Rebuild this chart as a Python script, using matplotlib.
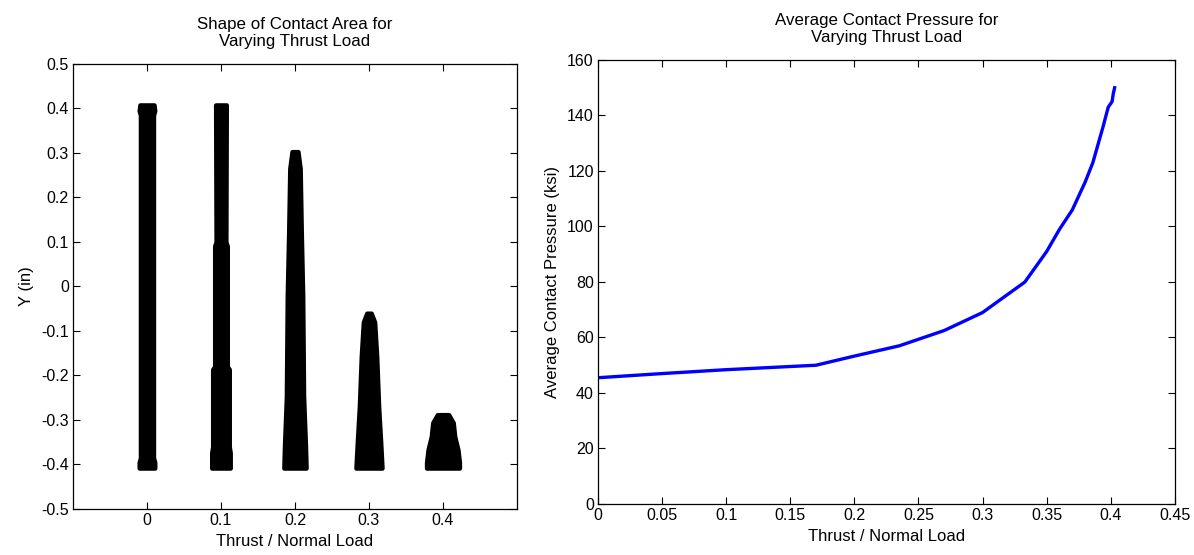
import numpy as np
import matplotlib
matplotlib.use("Agg")
import matplotlib.pyplot as plt

plt.rcParams['font.family'] = ['Liberation Sans', 'DejaVu Sans']
plt.rcParams['font.size'] = 12

# contact area outlines (y position, half width) for each thrust ratio
thrust = [0.0, 0.1, 0.2, 0.3, 0.4]
shape_y = [
    [-0.408, -0.395, -0.385, 0.385, 0.395, 0.408],
    [-0.408, -0.374, -0.360, -0.186, -0.180, 0.091, 0.100, 0.408],
    [-0.408, -0.360, -0.247, -0.021, 0.123, 0.265, 0.303],
    [-0.408, -0.351, -0.270, -0.157, -0.080, -0.060],
    [-0.408, -0.396, -0.367, -0.337, -0.306, -0.288],
]
shape_hw = [
    [0.0105, 0.0105, 0.0088, 0.0088, 0.0105, 0.0095],
    [0.0125, 0.0125, 0.0112, 0.0112, 0.0085, 0.0085, 0.0066, 0.0072],
    [0.0150, 0.0142, 0.0116, 0.0104, 0.0085, 0.0070, 0.0040],
    [0.0176, 0.0158, 0.0130, 0.0104, 0.0076, 0.0030],
    [0.0222, 0.0222, 0.0202, 0.0158, 0.0138, 0.0076],
]

# average contact pressure curve
ratio = [0, 0.05, 0.1, 0.17, 0.2, 0.235, 0.27, 0.3, 0.315, 0.333, 0.35, 0.36,
         0.37, 0.38, 0.386, 0.394, 0.398, 0.401, 0.402, 0.403]
pressure = [45.5, 47.0, 48.4, 50.0, 53.3, 57.0, 62.5, 69, 74, 80, 91, 99,
            106, 116, 123, 136, 143, 145, 148, 150]

fig = plt.figure(figsize=(11.94, 5.55), dpi=100)
ax1 = fig.add_axes([0.0611, 0.0829, 0.3719, 0.8018])
ax2 = fig.add_axes([0.5008, 0.0919, 0.4832, 0.8000])

for t, ys, hws in zip(thrust, shape_y, shape_hw):
    ys = np.array(ys)
    hws = np.array(hws)
    ax1.fill_betweenx(ys, t - hws, t + hws, color='black', edgecolor='black',
                      linewidth=3.2, joinstyle='round', capstyle='round')

ax1.set_xlim(-0.1, 0.5)
ax1.set_ylim(-0.5, 0.5)
ax1.set_xticks([0, 0.1, 0.2, 0.3, 0.4])
ax1.set_xticklabels(['0', '0.1', '0.2', '0.3', '0.4'])
ax1.set_yticks(np.round(np.arange(-0.5, 0.51, 0.1), 1))
ax1.set_yticklabels(['-0.5', '-0.4', '-0.3', '-0.2', '-0.1', '0', '0.1', '0.2', '0.3', '0.4', '0.5'])
ax1.set_xlabel('Thrust / Normal Load', labelpad=4)
ax1.set_ylabel('Y (in)', labelpad=5)
ax1.set_title('Shape of Contact Area for\nVarying Thrust Load', pad=13, fontsize=12.2)

ax2.plot(ratio, pressure, color='#0000ff', linewidth=2.4)
ax2.set_xlim(0, 0.45)
ax2.set_ylim(0, 160)
ax2.set_xticks(np.round(np.arange(0, 0.451, 0.05), 2))
ax2.set_xticklabels(['0', '0.05', '0.1', '0.15', '0.2', '0.25', '0.3', '0.35', '0.4', '0.45'])
ax2.set_yticks(range(0, 161, 20))
ax2.set_xlabel('Thrust / Normal Load', labelpad=4)
ax2.set_ylabel('Average Contact Pressure (ksi)', labelpad=5)
ax2.set_title('Average Contact Pressure for\nVarying Thrust Load', pad=13, fontsize=12.2)

for ax in (ax1, ax2):
    ax.tick_params(direction='in', top=True, right=True, length=5, width=0.8,
                   labelsize=11.5, pad=3)
    for s in ax.spines.values():
        s.set_linewidth(0.9)

fig.savefig('out.png', dpi=100)
